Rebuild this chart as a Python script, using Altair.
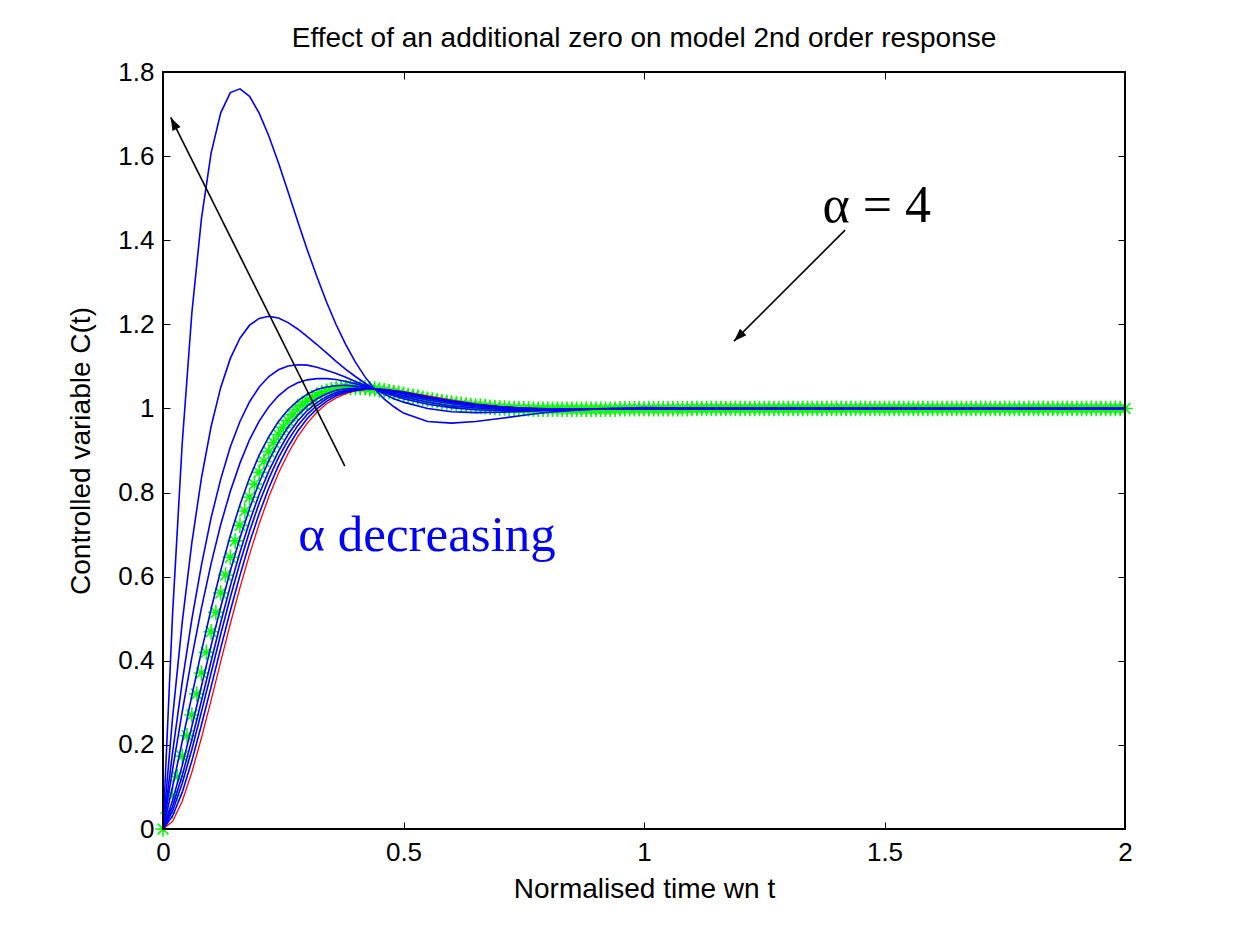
import altair as alt
import pandas as pd

# ---------------- data ----------------
t_curve = [0.00, 0.02, 0.04, 0.06, 0.08, 0.10, 0.12, 0.14, 0.16, 0.18,
           0.20, 0.22, 0.24, 0.26, 0.28, 0.30, 0.32, 0.34, 0.36, 0.38,
           0.40, 0.42, 0.44, 0.46, 0.48, 0.50, 0.55, 0.60, 0.65, 0.70,
           0.75, 0.80, 0.90, 1.00, 1.20, 1.50, 2.00]

blue_alphas = ["0.5", "1", "1.5", "2", "3", "5", "7", "10", "20"]

c_alpha_0_5 = [0.000, 0.513, 0.918, 1.227, 1.452, 1.607, 1.703, 1.751, 1.760, 1.742,
               1.702, 1.648, 1.584, 1.515, 1.445, 1.377, 1.313, 1.253, 1.199, 1.152,
               1.110, 1.075, 1.046, 1.022, 1.004, 0.989, 0.969, 0.965, 0.969, 0.976,
               0.984, 0.991, 0.999, 1.002, 1.000, 1.000, 1.000]
c_alpha_1 = [0.000, 0.266, 0.492, 0.681, 0.835, 0.957, 1.050, 1.119, 1.167, 1.198,
             1.214, 1.219, 1.215, 1.204, 1.189, 1.171, 1.152, 1.132, 1.112, 1.093,
             1.076, 1.060, 1.046, 1.034, 1.023, 1.015, 1.000, 0.992, 0.990, 0.991,
             0.993, 0.995, 0.999, 1.000, 1.000, 1.000, 1.000]
c_alpha_1_5 = [0.000, 0.183, 0.350, 0.499, 0.628, 0.740, 0.832, 0.909, 0.969, 1.016,
               1.051, 1.076, 1.092, 1.101, 1.104, 1.103, 1.098, 1.091, 1.083, 1.074,
               1.064, 1.055, 1.046, 1.038, 1.030, 1.023, 1.010, 1.002, 0.997, 0.995,
               0.995, 0.996, 0.998, 1.000, 1.000, 1.000, 1.000]
c_alpha_2 = [0.000, 0.142, 0.279, 0.408, 0.526, 0.631, 0.724, 0.803, 0.870, 0.926,
             0.970, 1.004, 1.030, 1.049, 1.061, 1.068, 1.071, 1.071, 1.069, 1.064,
             1.059, 1.053, 1.046, 1.039, 1.033, 1.027, 1.015, 1.006, 1.001, 0.998,
             0.997, 0.997, 0.998, 0.999, 1.000, 1.000, 1.000]
c_alpha_3 = [0.000, 0.101, 0.208, 0.317, 0.423, 0.523, 0.615, 0.698, 0.771, 0.835,
             0.889, 0.933, 0.969, 0.997, 1.018, 1.034, 1.045, 1.051, 1.054, 1.055,
             1.053, 1.050, 1.046, 1.041, 1.036, 1.031, 1.020, 1.011, 1.004, 1.000,
             0.998, 0.998, 0.998, 0.999, 1.000, 1.000, 1.000]
c_alpha_5 = [0.000, 0.068, 0.151, 0.244, 0.340, 0.436, 0.528, 0.614, 0.692, 0.762,
             0.824, 0.876, 0.920, 0.956, 0.984, 1.006, 1.023, 1.035, 1.043, 1.047,
             1.048, 1.048, 1.046, 1.043, 1.039, 1.035, 1.024, 1.014, 1.007, 1.002,
             0.999, 0.998, 0.998, 0.999, 1.000, 1.000, 1.000]
c_alpha_7 = [0.000, 0.054, 0.127, 0.213, 0.305, 0.399, 0.491, 0.578, 0.658, 0.731,
             0.796, 0.851, 0.898, 0.938, 0.970, 0.995, 1.014, 1.028, 1.038, 1.043,
             1.046, 1.047, 1.046, 1.044, 1.040, 1.036, 1.026, 1.016, 1.008, 1.003,
             1.000, 0.998, 0.998, 0.999, 1.000, 1.000, 1.000]
c_alpha_10 = [0.000, 0.043, 0.109, 0.189, 0.279, 0.371, 0.463, 0.551, 0.633, 0.708,
              0.775, 0.833, 0.883, 0.924, 0.959, 0.986, 1.007, 1.023, 1.034, 1.041,
              1.045, 1.047, 1.046, 1.044, 1.041, 1.037, 1.027, 1.017, 1.009, 1.004,
              1.000, 0.998, 0.998, 0.999, 1.000, 1.000, 1.000]
c_alpha_20 = [0.000, 0.031, 0.087, 0.162, 0.248, 0.338, 0.430, 0.519, 0.603, 0.681,
              0.750, 0.811, 0.864, 0.909, 0.946, 0.976, 0.999, 1.017, 1.030, 1.038,
              1.043, 1.046, 1.046, 1.045, 1.042, 1.039, 1.028, 1.018, 1.010, 1.004,
              1.001, 0.999, 0.998, 0.999, 1.000, 1.000, 1.000]
c_no_zero = [0.000, 0.018, 0.066, 0.135, 0.217, 0.306, 0.398, 0.488, 0.574, 0.653,
             0.726, 0.790, 0.846, 0.893, 0.933, 0.965, 0.991, 1.011, 1.025, 1.035,
             1.042, 1.045, 1.046, 1.045, 1.043, 1.040, 1.030, 1.020, 1.011, 1.005,
             1.001, 0.999, 0.998, 0.999, 1.000, 1.000, 1.000]

# alpha = 4 (green stars)
green_t = [0.00, 0.01, 0.02, 0.03, 0.04, 0.05, 0.06, 0.07, 0.08, 0.09,
           0.10, 0.11, 0.12, 0.13, 0.14, 0.15, 0.16, 0.17, 0.18, 0.19,
           0.20, 0.21, 0.22, 0.23, 0.24, 0.25, 0.26, 0.27, 0.28, 0.29,
           0.30, 0.31, 0.32, 0.33, 0.34, 0.35, 0.36, 0.37, 0.38, 0.39,
           0.40, 0.41, 0.42, 0.43, 0.44, 0.45, 0.46, 0.47, 0.48, 0.49,
           0.50, 0.51, 0.52, 0.53, 0.54, 0.55, 0.56, 0.57, 0.58, 0.59,
           0.60, 0.61, 0.62, 0.63, 0.64, 0.65, 0.66, 0.67, 0.68, 0.69,
           0.70, 0.71, 0.72, 0.73, 0.74, 0.75, 0.76, 0.77, 0.78, 0.79,
           0.80, 0.81, 0.82, 0.83, 0.84, 0.85, 0.86, 0.87, 0.88, 0.89,
           0.90, 0.91, 0.92, 0.93, 0.94, 0.95, 0.96, 0.97, 0.98, 0.99,
           1.00, 1.01, 1.02, 1.03, 1.04, 1.05, 1.06, 1.07, 1.08, 1.09,
           1.10, 1.11, 1.12, 1.13, 1.14, 1.15, 1.16, 1.17, 1.18, 1.19,
           1.20, 1.21, 1.22, 1.23, 1.24, 1.25, 1.26, 1.27, 1.28, 1.29,
           1.30, 1.31, 1.32, 1.33, 1.34, 1.35, 1.36, 1.37, 1.38, 1.39,
           1.40, 1.41, 1.42, 1.43, 1.44, 1.45, 1.46, 1.47, 1.48, 1.49,
           1.50, 1.51, 1.52, 1.53, 1.54, 1.55, 1.56, 1.57, 1.58, 1.59,
           1.60, 1.61, 1.62, 1.63, 1.64, 1.65, 1.66, 1.67, 1.68, 1.69,
           1.70, 1.71, 1.72, 1.73, 1.74, 1.75, 1.76, 1.77, 1.78, 1.79,
           1.80, 1.81, 1.82, 1.83, 1.84, 1.85, 1.86, 1.87, 1.88, 1.89,
           1.90, 1.91, 1.92, 1.93, 1.94, 1.95, 1.96, 1.97, 1.98, 1.99,
           2.00]
green_c = [0.000, 0.038, 0.080, 0.125, 0.173, 0.222, 0.271, 0.321, 0.371, 0.420,
           0.469, 0.515, 0.561, 0.604, 0.646, 0.685, 0.722, 0.756, 0.789, 0.820,
           0.848, 0.874, 0.897, 0.919, 0.938, 0.955, 0.971, 0.985, 0.997, 1.008,
           1.017, 1.025, 1.031, 1.037, 1.041, 1.044, 1.047, 1.049, 1.050, 1.050,
           1.050, 1.050, 1.049, 1.047, 1.046, 1.044, 1.042, 1.040, 1.038, 1.036,
           1.034, 1.031, 1.029, 1.027, 1.024, 1.022, 1.020, 1.018, 1.016, 1.014,
           1.013, 1.011, 1.010, 1.008, 1.007, 1.006, 1.005, 1.004, 1.003, 1.002,
           1.001, 1.001, 1.000, 1.000, 0.999, 0.999, 0.999, 0.998, 0.998, 0.998,
           0.998, 0.998, 0.998, 0.998, 0.998, 0.998, 0.998, 0.998, 0.998, 0.998,
           0.998, 0.998, 0.998, 0.998, 0.998, 0.999, 0.999, 0.999, 0.999, 0.999,
           0.999, 0.999, 0.999, 0.999, 0.999, 0.999, 0.999, 0.999, 0.999, 0.999,
           1.000, 1.000, 1.000, 1.000, 1.000, 1.000, 1.000, 1.000, 1.000, 1.000,
           1.000, 1.000, 1.000, 1.000, 1.000, 1.000, 1.000, 1.000, 1.000, 1.000,
           1.000, 1.000, 1.000, 1.000, 1.000, 1.000, 1.000, 1.000, 1.000, 1.000,
           1.000, 1.000, 1.000, 1.000, 1.000, 1.000, 1.000, 1.000, 1.000, 1.000,
           1.000, 1.000, 1.000, 1.000, 1.000, 1.000, 1.000, 1.000, 1.000, 1.000,
           1.000, 1.000, 1.000, 1.000, 1.000, 1.000, 1.000, 1.000, 1.000, 1.000,
           1.000, 1.000, 1.000, 1.000, 1.000, 1.000, 1.000, 1.000, 1.000, 1.000,
           1.000, 1.000, 1.000, 1.000, 1.000, 1.000, 1.000, 1.000, 1.000, 1.000,
           1.000, 1.000, 1.000, 1.000, 1.000, 1.000, 1.000, 1.000, 1.000, 1.000,
           1.000]

# annotation arrows (tail, tip) and labels
arrow_names = ["decreasing", "decreasing", "four", "four"]
arrow_x = [0.378, 0.016, 1.418, 1.187]
arrow_y = [0.863, 1.692, 1.424, 1.160]
head_x = [0.016, 1.187]
head_y = [1.692, 1.160]
head_angle = [333.4, 225.0]

label_text = ["\u03b1 decreasing", "\u03b1 = 4"]
label_x = [0.549, 1.484]
label_y = [0.660, 1.443]
label_size = [51, 52]
label_color = ["#0000ff", "#000000"]

# axes box (data range of the frame)
frame_x = [0]
frame_x2 = [2]
frame_y = [0]
frame_y2 = [1.8]

title_text = "Effect of an additional zero on model 2nd order response"
x_title = "Normalised time wn t"
y_title = "Controlled variable C(t)"
x_ticks = [0, 0.5, 1, 1.5, 2]
y_ticks = [0, 0.2, 0.4, 0.6, 0.8, 1, 1.2, 1.4, 1.6, 1.8]

# ---------------- tables ----------------
blue_series = [c_alpha_0_5, c_alpha_1, c_alpha_1_5, c_alpha_2, c_alpha_3,
               c_alpha_5, c_alpha_7, c_alpha_10, c_alpha_20]
rows = []
for name, vals in zip(blue_alphas, blue_series):
    for t, c in zip(t_curve, vals):
        rows.append({"t": t, "c": c, "alpha": name})
blue_df = pd.DataFrame(rows)
red_df = pd.DataFrame({"t": t_curve, "c": c_no_zero})
green_df = pd.DataFrame({"t": green_t, "c": green_c})
arrow_df = pd.DataFrame({"t": arrow_x, "c": arrow_y, "arrow": arrow_names})
head_df = pd.DataFrame({"t": head_x, "c": head_y, "angle": head_angle})
label_df = pd.DataFrame({"t": label_x, "c": label_y, "label": label_text,
                         "color": label_color, "fs": label_size})
frame_df = pd.DataFrame({"t": frame_x, "t2": frame_x2, "c": frame_y, "c2": frame_y2})

FONT = "Liberation Sans"
STAR = "M-1,0L1,0M0,-1L0,1M-0.7,-0.7L0.7,0.7M-0.7,0.7L0.7,-0.7"
ARROW = "M0,0L-0.35,1L0.35,1Z"
TICK = 7

xs = alt.Scale(domain=[0, 2], nice=False, zero=False)
ys = alt.Scale(domain=[0, 1.8], nice=False, zero=False)

bottom_axis = alt.Axis(values=x_ticks, format="~g", orient="bottom", offset=-TICK,
                       tickSize=TICK, tickColor="black", tickWidth=1, domain=False,
                       grid=False, labelFont=FONT, labelFontSize=26, labelColor="black",
                       labelPadding=10, labelFlush=False, titleFont=FONT,
                       titleFontSize=28, titleFontWeight="normal", titleColor="black",
                       titlePadding=10)
left_axis = alt.Axis(values=y_ticks, format="~g", orient="left", offset=-TICK,
                     tickSize=TICK, tickColor="black", tickWidth=1, domain=False,
                     grid=False, labelFont=FONT, labelFontSize=26, labelColor="black",
                     labelPadding=9, labelFlush=False, titleFont=FONT,
                     titleFontSize=28, titleFontWeight="normal", titleColor="black",
                     titlePadding=22)
top_axis = alt.Axis(values=x_ticks, orient="top", offset=-TICK, tickSize=TICK,
                    tickColor="black", tickWidth=1, domain=False, grid=False,
                    labels=False)
right_axis = alt.Axis(values=y_ticks, orient="right", offset=-TICK, tickSize=TICK,
                      tickColor="black", tickWidth=1, domain=False, grid=False,
                      labels=False)

frame = alt.Chart(frame_df).mark_rect(
    fill=None, fillOpacity=0, stroke="black", strokeWidth=2
).encode(
    x=alt.X("t:Q", scale=xs, axis=None),
    x2="t2:Q",
    y=alt.Y("c:Q", scale=ys, axis=None),
    y2="c2:Q",
)

green = alt.Chart(green_df).mark_point(
    shape=STAR, filled=False, color="#00ff00", strokeWidth=1.6, size=240, opacity=1
).encode(
    x=alt.X("t:Q", scale=xs, axis=None),
    y=alt.Y("c:Q", scale=ys, axis=None),
)

red = alt.Chart(red_df).mark_line(color="#ff0000", strokeWidth=1.3).encode(
    x=alt.X("t:Q", scale=xs, axis=top_axis, title=None),
    y=alt.Y("c:Q", scale=ys, axis=right_axis, title=None),
)

blue = alt.Chart(blue_df).mark_line(color="#0000ff", strokeWidth=1.6).encode(
    x=alt.X("t:Q", scale=xs, axis=bottom_axis, title=x_title),
    y=alt.Y("c:Q", scale=ys, axis=left_axis, title=y_title),
    detail="alpha:N",
)

arrows = alt.Chart(arrow_df).mark_line(color="black", strokeWidth=1.6).encode(
    x=alt.X("t:Q", scale=xs, axis=None),
    y=alt.Y("c:Q", scale=ys, axis=None),
    detail="arrow:N",
)

heads = alt.Chart(head_df).mark_point(
    shape=ARROW, filled=True, color="black", size=676, opacity=1
).encode(
    x=alt.X("t:Q", scale=xs, axis=None),
    y=alt.Y("c:Q", scale=ys, axis=None),
    angle=alt.Angle("angle:Q", scale=None),
)

labels = alt.Chart(label_df).mark_text(
    font="Liberation Serif", align="center", baseline="alphabetic"
).encode(
    x=alt.X("t:Q", scale=xs, axis=None),
    y=alt.Y("c:Q", scale=ys, axis=None),
    text="label:N",
    color=alt.Color("color:N", scale=None),
    size=alt.Size("fs:Q", scale=None),
)

chart = alt.layer(green, red, blue, arrows, heads, labels, frame).resolve_axis(
    x="independent", y="independent"
).properties(
    width=962,
    height=757,
    padding={"left": 155, "top": 64, "right": 106, "bottom": 80},
    autosize=alt.AutoSizeParams(type="none"),
    title=alt.TitleParams(text=title_text, font=FONT, fontSize=28, fontWeight="normal",
                          color="black", anchor="middle", offset=6),
).configure_view(
    stroke=None
).configure(background="white")

chart.save("out.html", embed_options={"renderer": "svg", "actions": False})
